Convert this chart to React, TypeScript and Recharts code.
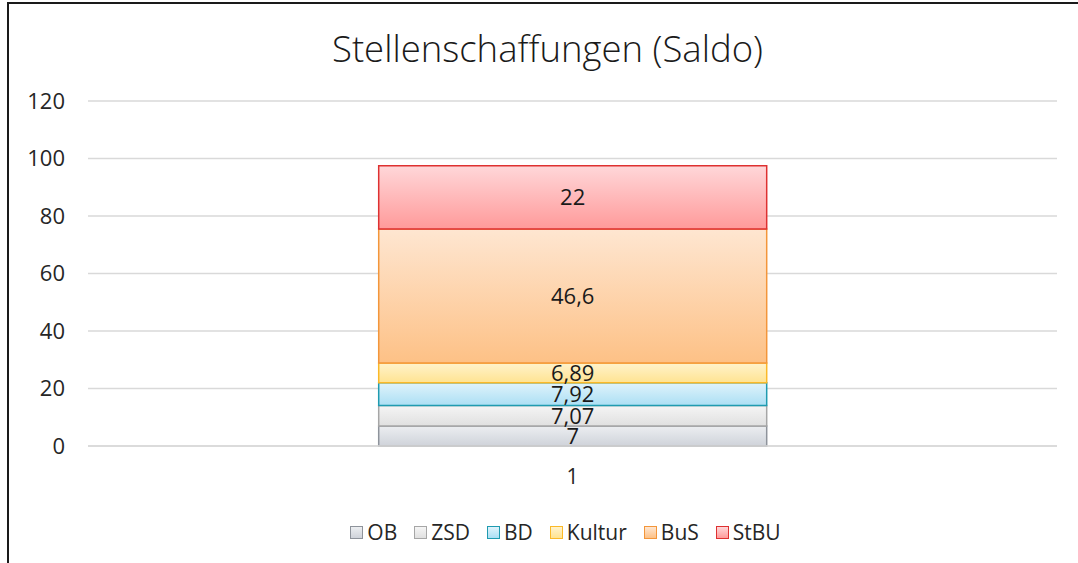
import React from 'react';
import { BarChart, Bar, XAxis, YAxis, CartesianGrid, LabelList } from 'recharts';

const categories = ['1'];
const seriesNames = ['OB', 'ZSD', 'BD', 'Kultur', 'BuS', 'StBU'];
const seriesValues = [[7], [7.07], [7.92], [6.89], [46.6], [22]];
const yTicks = [0, 20, 40, 60, 80, 100, 120];

// top colour, bottom colour, outline
const seriesColors: Record<string, [string, string, string]> = {
  OB: ['#eceef1', '#cfd3da', '#8e939b'],
  ZSD: ['#f5f5f5', '#e0e0e0', '#a6a6a6'],
  BD: ['#e0f3fb', '#abdff4', '#1f9bb0'],
  Kultur: ['#fff3cc', '#ffe391', '#fbb928'],
  BuS: ['#fee6d1', '#fdc186', '#f3963a'],
  StBU: ['#ffd7d9', '#ff9a9a', '#de3131'],
};

const data = categories.map((name, i) => {
  const row: Record<string, string | number> = { name };
  seriesNames.forEach((s, j) => {
    row[s] = seriesValues[j][i];
  });
  return row;
});

const font = '"Open Sans", "Noto Sans", sans-serif';
const fmt = (v: any) => String(v).replace('.', ',');

const Legend: React.FC = () => (
  <div
    style={{
      position: 'absolute',
      top: 513,
      left: 0,
      width: 1130,
      display: 'flex',
      justifyContent: 'center',
      alignItems: 'center',
      fontFamily: font,
      fontSize: 21,
      color: '#262626',
      lineHeight: '30px',
    }}
  >
    {seriesNames.map((s) => (
      <div key={s} style={{ display: 'flex', alignItems: 'center', marginRight: 17 }}>
        <span
          style={{
            display: 'inline-block',
            width: 11,
            height: 11,
            border: `1.5px solid ${seriesColors[s][2]}`,
            background: `linear-gradient(${seriesColors[s][0]}, ${seriesColors[s][1]})`,
            marginRight: 4,
          }}
        />
        <span>{s}</span>
      </div>
    ))}
  </div>
);

export default function App() {
  return (
    <div
      style={{
        position: 'absolute',
        left: 7,
        top: 2,
        width: 1071,
        height: 561,
        boxSizing: 'border-box',
        borderLeft: '2px solid #1a1a1a',
        borderTop: '2px solid #1a1a1a',
        background: '#fff',
        overflow: 'hidden',
      }}
    >
      <div
        style={{
          position: 'absolute',
          top: 22,
          left: 0,
          width: 1077,
          textAlign: 'center',
          fontFamily: font,
          fontSize: 36.5,
          fontWeight: 300,
          lineHeight: '44px',
          color: '#1a1a1a',
        }}
      >
        Stellenschaffungen (Saldo)
      </div>
      <BarChart
        width={1069}
        height={559}
        data={data}
        margin={{ top: 97, right: 21, bottom: 77, left: 0 }}
        barCategoryGap="30%"
      >
        <defs>
          {seriesNames.map((s) => (
            <linearGradient key={s} id={`grad-${s}`} x1="0" y1="0" x2="0" y2="1">
              <stop offset="0%" stopColor={seriesColors[s][0]} />
              <stop offset="100%" stopColor={seriesColors[s][1]} />
            </linearGradient>
          ))}
        </defs>
        <CartesianGrid vertical={false} stroke="#d9d9d9" strokeWidth={1.5} />
        <XAxis
          dataKey="name"
          height={40}
          tickLine={false}
          tickSize={0}
          tickMargin={23}
          axisLine={{ stroke: '#d9d9d9', strokeWidth: 1.5 }}
          tick={{ fontFamily: font, fontSize: 21, fill: '#262626' }}
        />
        <YAxis
          width={79}
          domain={[0, 120]}
          ticks={yTicks}
          axisLine={false}
          tickLine={false}
          tickSize={0}
          tickMargin={23}
          tick={{ fontFamily: font, fontSize: 22, fill: '#262626' }}
        />
        {seriesNames.map((s) => (
          <Bar
            key={s}
            dataKey={s}
            stackId="a"
            fill={`url(#grad-${s})`}
            stroke={seriesColors[s][2]}
            strokeWidth={1.5}
            isAnimationActive={false}
          >
            <LabelList
              dataKey={s}
              position="center"
              formatter={fmt}
              style={{ fontFamily: font, fontSize: 22, fill: '#1a1a1a' }}
            />
          </Bar>
        ))}
      </BarChart>
      <Legend />
    </div>
  );
}
